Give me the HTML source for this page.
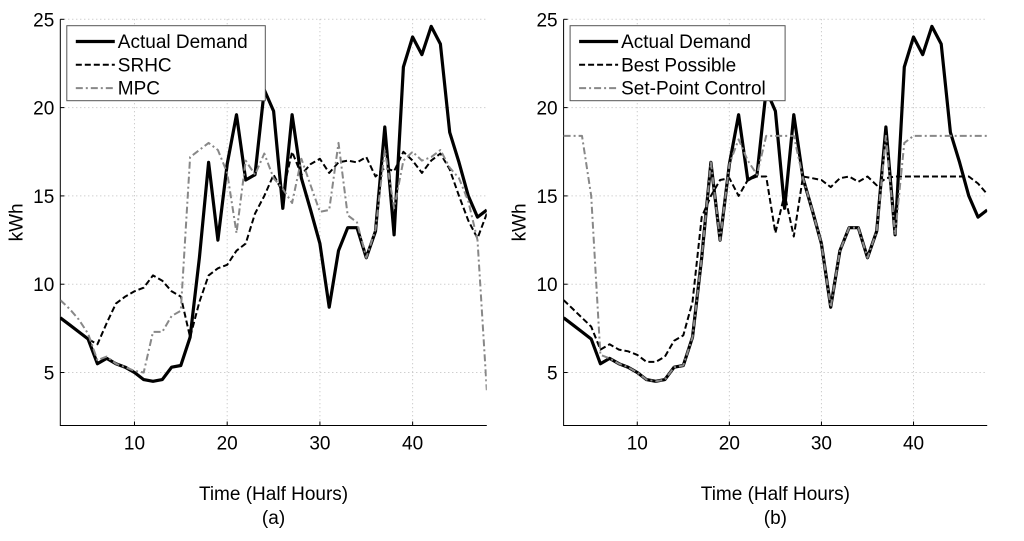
<!DOCTYPE html>
<html><head><meta charset="utf-8"><style>
html,body{margin:0;padding:0;background:#fff;}
svg{display:block;font-family:"Liberation Sans",Arial,sans-serif;}
</style></head><body>
<svg id="fig" width="1024" height="541" viewBox="0 0 1024 541"></svg>
<script>
const xs = [2,3,4,5,6,7,8,9,10,11,12,13,14,15,16,17,18,19,20,21,22,23,24,25,26,27,28,29,30,31,32,33,34,35,36,37,38,39,40,41,42,43,44,45,46,47,48];
const actualDemand = [8.1,7.7,7.3,6.9,5.5,5.8,5.5,5.3,5.0,4.6,4.5,4.6,5.3,5.4,7.0,11.5,16.9,12.5,16.8,19.6,15.9,16.2,21.0,19.8,14.3,19.6,16.0,14.2,12.3,8.7,11.9,13.2,13.2,11.5,13.0,18.9,12.8,22.3,24.0,23.0,24.6,23.6,18.6,16.9,15.0,13.8,14.2];
const srhc = [8.1,7.7,7.3,6.9,6.6,7.8,8.9,9.3,9.6,9.8,10.5,10.2,9.6,9.3,7.0,9.0,10.5,10.9,11.1,11.9,12.3,14.0,15.0,16.2,15.2,17.5,16.2,16.8,17.1,16.3,16.9,17.0,16.9,17.2,16.1,16.6,16.4,17.5,17.0,16.3,17.0,17.4,16.5,15.0,13.6,12.6,14.0];
const mpc = [9.1,8.6,8.0,7.2,5.7,5.9,5.5,5.3,5.1,5.0,7.3,7.3,8.2,8.5,17.2,17.6,18.0,17.6,16.3,12.9,17.0,16.2,17.4,16.0,15.4,14.6,17.1,15.6,14.1,14.2,18.0,13.9,13.5,11.5,13.1,17.6,14.3,17.0,17.5,17.0,17.2,17.6,16.6,16.0,14.7,12.5,4.0];
const bestPossible = [9.1,8.6,8.1,7.6,6.3,6.6,6.3,6.2,6.0,5.6,5.6,5.9,6.8,7.1,9.0,13.8,15.0,15.9,16.0,15.0,15.9,16.1,16.1,12.9,15.1,12.7,16.1,16.0,15.9,15.5,16.0,16.1,15.8,16.1,15.6,16.0,16.1,16.1,16.1,16.1,16.1,16.1,16.1,16.1,16.1,15.7,15.1];
const setPoint = [18.4,18.4,18.4,15.0,6.0,5.8,5.5,5.3,5.0,4.6,4.5,4.6,5.3,5.4,7.0,11.5,16.9,12.5,16.8,18.2,17.0,16.2,18.4,18.4,18.4,18.4,16.0,14.2,12.3,8.7,11.9,13.2,13.2,11.5,13.0,18.4,12.8,18.0,18.4,18.4,18.4,18.4,18.4,18.4,18.4,18.4,18.4];
const xTicks = [10,20,30,40];
const yTicks = [5,10,15,20,25];
const xMin = 2, xMax = 48, yMin = 2, yMax = 25;

const NS = "http://www.w3.org/2000/svg";
const svg = document.getElementById('fig');
function mk(tag, attrs, parent){
  const e = document.createElementNS(NS, tag);
  for (const k in attrs) e.setAttribute(k, attrs[k]);
  (parent||svg).appendChild(e);
  return e;
}
function panel(id, L, R, label, series, legendW){
  const T = 19.3, B = 425.5;
  const g = mk('g', {});
  
  
  const sx = v => L + (v - xMin) / (xMax - xMin) * (R - L);
  const sy = v => B - (v - yMin) / (yMax - yMin) * (B - T);
  xTicks.forEach(t => {
    const l = mk('line', {x1:sx(t), x2:sx(t), y1:T, y2:B, stroke:'#bbb', 'stroke-width':1, 'stroke-dasharray':'1,3'}, g);
    
    
    const tx = mk('text', {x:sx(t), y:B+24, 'font-size':19, 'text-anchor':'middle', fill:'#000'}, g);
    tx.textContent = t;
    
    
    mk('line', {x1:sx(t), x2:sx(t), y1:B, y2:B-4, stroke:'#000', 'stroke-width':1}, g);
  });
  yTicks.forEach(t => {
    const l = mk('line', {x1:L, x2:R, y1:sy(t), y2:sy(t), stroke:'#bbb', 'stroke-width':1, 'stroke-dasharray':'1,3'}, g);
    
    
    const tx = mk('text', {x:L-6, y:sy(t)+7, 'font-size':19, 'text-anchor':'end', fill:'#000'}, g);
    tx.textContent = t;
    
    
    mk('line', {x1:L, x2:L+4, y1:sy(t), y2:sy(t), stroke:'#000', 'stroke-width':1}, g);
  });
  const axL = mk('path', {d:`M${L},${T} L${L},${B} L${R},${B}`, fill:'none', stroke:'#000', 'stroke-width':1}, g);
  
  
  const cp = mk('clipPath', {id:'clip-'+id}, g);
  mk('rect', {x:L, y:T, width:R-L, height:B-T}, cp);
  const sg = mk('g', {'clip-path':'url(#clip-'+id+')'}, g);
  series.forEach(s => {
    const d = s.data.map((v,i) => (i?'L':'M') + sx(xs[i]).toFixed(1) + ',' + sy(v).toFixed(1)).join(' ');
    const p = mk('path', {d:d, fill:'none', stroke:s.color, 'stroke-width':s.w, 'stroke-dasharray':s.dash, 'stroke-linejoin':'round'}, sg);
    
    
  });
  const yl = mk('text', {x:0, y:0, 'font-size':19, 'text-anchor':'middle', transform:`translate(${L-38},${(T+B)/2}) rotate(-90)`}, g);
  yl.textContent = 'kWh';
  
  
  const xl = mk('text', {x:(L+R)/2, y:500, 'font-size':19, 'text-anchor':'middle'}, g);
  xl.textContent = 'Time (Half Hours)';
  
  
  const cap = mk('text', {x:(L+R)/2, y:524, 'font-size':19, 'text-anchor':'middle'}, g);
  cap.textContent = label;
  
  
  const lg = mk('g', {}, g);
  
  
  const lx = L + 6.5;
  mk('rect', {x:lx, y:25.7, width:legendW, height:75, fill:'#fff', stroke:'#555', 'stroke-width':1}, lg);
  series.forEach((s,i) => {
    const yy = 41.5 + i*23.3;
    const e = mk('g', {}, lg);
    
    
    mk('line', {x1:lx+9, x2:lx+48, y1:yy, y2:yy, stroke:s.color, 'stroke-width':s.w, 'stroke-dasharray':s.dash}, e);
    const t = mk('text', {x:lx+51, y:yy+6.5, 'font-size':19}, e);
    t.textContent = s.label;
  });
}
const solid = 'none', dash = '6,3', dashdot = '7,3,2,3';
panel('a', 60.3, 486.8, '(a)', [
  {name:'actual-demand', label:'Actual Demand', data:actualDemand, color:'#000', w:3.2, dash:solid},
  {name:'srhc', label:'SRHC', data:srhc, color:'#000', w:2, dash:dash},
  {name:'mpc', label:'MPC', data:mpc, color:'#888', w:2, dash:dashdot}
], 198.5);
panel('b', 563.6, 987.2, '(b)', [
  {name:'actual-demand', label:'Actual Demand', data:actualDemand, color:'#000', w:3.2, dash:solid},
  {name:'best-possible', label:'Best Possible', data:bestPossible, color:'#000', w:2, dash:dash},
  {name:'set-point-control', label:'Set-Point Control', data:setPoint, color:'#888', w:2, dash:dashdot}
], 215);
</script>
</body></html>
